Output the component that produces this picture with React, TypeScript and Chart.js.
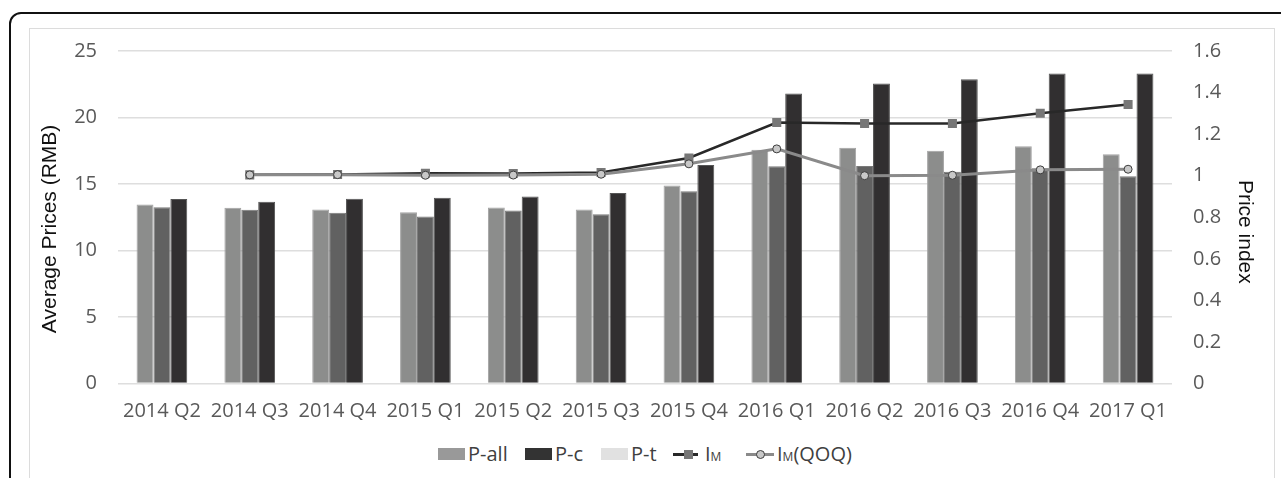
import React, { useEffect, useRef } from "react";
import { Chart, registerables } from "chart.js";

Chart.register(...registerables);

const categories = [
  "2014 Q2", "2014 Q3", "2014 Q4", "2015 Q1", "2015 Q2", "2015 Q3",
  "2015 Q4", "2016 Q1", "2016 Q2", "2016 Q3", "2016 Q4", "2017 Q1",
];
const pAll = [13.46, 13.21, 13.08, 12.88, 13.23, 13.08, 14.88, 17.58, 17.73, 17.5, 17.83, 17.23];
const pT = [13.25, 13.06, 12.83, 12.56, 13.0, 12.73, 14.45, 16.33, 16.36, 15.93, 16.18, 15.58];
const pC = [13.88, 13.66, 13.9, 13.96, 14.06, 14.33, 16.43, 21.8, 22.55, 22.88, 23.3, 23.3];
const iM = [null, 1.004, 1.006, 1.012, 1.011, 1.015, 1.085, 1.256, 1.251, 1.251, 1.3, 1.343];
const iMQoq = [null, 1.004, 1.005, 1.002, 1.003, 1.007, 1.057, 1.129, 1.0, 1.002, 1.028, 1.031];

const leftTicks = { min: 0, max: 25, step: 5 };
const rightTicks = { min: 0, max: 1.6, step: 0.2 };

const CW = 1245;
const CH = 410;
const CTOP = 18;
const tickFont = { family: "'Open Sans', sans-serif", size: 20 };
const titleFont = { family: "'Liberation Sans', Arial, sans-serif", size: 21 };
const tickColor = "#595959";

export default function App() {
  const ref = useRef<HTMLCanvasElement | null>(null);

  useEffect(() => {
    if (!ref.current) return;
    const chart = new Chart(ref.current, {
      type: "bar",
      data: {
        labels: categories,
        datasets: [
          {
            type: "line",
            label: "IM(QOQ)",
            data: iMQoq,
            yAxisID: "y2",
            borderColor: "#8a8a8a",
            borderWidth: 3,
            pointStyle: "circle",
            pointRadius: 4,
            pointBackgroundColor: "#c8c8c8",
            pointBorderColor: "#3c3c3c",
            pointBorderWidth: 1,
            tension: 0,
          } as any,
          {
            type: "line",
            label: "IM",
            data: iM,
            yAxisID: "y2",
            borderColor: "#282828",
            borderWidth: 2.5,
            pointStyle: "rect",
            pointRadius: 6.4,
            pointBackgroundColor: "#777777",
            pointBorderColor: "#777777",
            pointBorderWidth: 0,
            tension: 0,
          } as any,
          {
            label: "P-all",
            data: pAll,
            yAxisID: "y",
            backgroundColor: "#8c8d8c",
            borderColor: "#a3a3a3",
            borderWidth: 1,
          },
          {
            label: "P-t",
            data: pT,
            yAxisID: "y",
            backgroundColor: "#616161",
            borderColor: "#7a7a7a",
            borderWidth: 1,
          },
          {
            label: "P-c",
            data: pC,
            yAxisID: "y",
            backgroundColor: "#312f30",
            borderColor: "#555555",
            borderWidth: 1,
          },
        ],
      },
      options: {
        responsive: false,
        animation: false,
        layout: { padding: { top: 0, left: 0, right: 0, bottom: 0 } },
        datasets: {
          bar: { categoryPercentage: 0.577, barPercentage: 1.0 },
        },
        plugins: {
          legend: { display: false },
          tooltip: { enabled: false },
          title: { display: false },
        },
        scales: {
          x: {
            grid: { display: false, drawTicks: false },
            border: { display: false },
            ticks: {
              font: tickFont,
              color: tickColor,
              padding: 16,
              maxRotation: 0,
              autoSkip: false,
            },
            afterFit: (s: any) => {
              s.height = CH - (383.5 - CTOP);
            },
          },
          y: {
            position: "left",
            min: leftTicks.min,
            max: leftTicks.max,
            ticks: {
              stepSize: leftTicks.step,
              font: tickFont,
              color: tickColor,
              padding: 21,
            },
            grid: { color: "#dedede", lineWidth: 1.5, drawTicks: false },
            border: { display: false },
            title: {
              display: true,
              text: "Average Prices (RMB)    ",
              font: titleFont,
              color: "#111111",
              padding: { top: 9, bottom: 0 },
            },
            afterFit: (s: any) => {
              s.width = 89;
            },
          },
          y2: {
            position: "right",
            min: rightTicks.min,
            max: rightTicks.max,
            ticks: {
              stepSize: rightTicks.step,
              font: tickFont,
              color: tickColor,
              padding: 21,
              callback: (v: any) => String(Math.round(Number(v) * 10) / 10),
            },
            grid: { display: false, drawTicks: false },
            border: { display: false },
            title: {
              display: true,
              text: "     Price index",
              font: titleFont,
              color: "#111111",
              padding: { top: 17, bottom: 0 },
            },
            afterFit: (s: any) => {
              s.width = 102;
            },
          },
        },
      } as any,
    });
    return () => chart.destroy();
  }, []);

  const legendText: React.CSSProperties = {
    position: "absolute",
    top: 440,
    fontFamily: "'Open Sans', sans-serif",
    fontSize: 20,
    lineHeight: "28px",
    color: "#404040",
    whiteSpace: "nowrap",
  };
  const swatch = (left: number, color: string): React.CSSProperties => ({
    position: "absolute",
    left,
    top: 448,
    width: 27,
    height: 12,
    background: color,
  });
  const lineSample = (left: number, width: number, color: string, h: number): React.CSSProperties => ({
    position: "absolute",
    left,
    top: 454 - h / 2,
    width,
    height: h,
    background: color,
  });

  return (
    <div style={{ position: "fixed", left: 0, top: 0, width: 1281, height: 478, overflow: "hidden", background: "#fff" }}>
      <div
        style={{
          position: "absolute",
          left: 9,
          top: 12,
          width: 1320,
          height: 520,
          border: "2px solid #111",
          borderRadius: 12,
          boxSizing: "border-box",
        }}
      />
      <div
        style={{
          position: "absolute",
          left: 29,
          top: 28,
          width: 1246,
          height: 500,
          border: "1px solid #dcdcdc",
          boxSizing: "border-box",
        }}
      />
      <canvas
        ref={ref}
        width={CW}
        height={CH}
        style={{ position: "absolute", left: 29, top: CTOP, width: CW, height: CH }}
      />
      {/* legend */}
      <div style={swatch(438, "#999999")} />
      <div style={{ ...legendText, left: 468 }}>P-all</div>
      <div style={swatch(525, "#333333")} />
      <div style={{ ...legendText, left: 555 }}>P-c</div>
      <div style={swatch(601, "#e1e1e1")} />
      <div style={{ ...legendText, left: 631 }}>P-t</div>

      <div style={lineSample(673, 25, "#282828", 3)} />
      <div style={{ position: "absolute", left: 684, top: 449.5, width: 9, height: 9, background: "#777777" }} />
      <div style={{ ...legendText, left: 705 }}>
        I<span style={{ fontSize: 12 }}>M</span>
      </div>

      <div style={lineSample(746, 28, "#8a8a8a", 3)} />
      <div
        style={{
          position: "absolute",
          left: 756,
          top: 449.5,
          width: 9,
          height: 9,
          boxSizing: "border-box",
          borderRadius: "50%",
          background: "#c8c8c8",
          border: "1px solid #3c3c3c",
        }}
      />
      <div style={{ ...legendText, left: 777 }}>
        I<span style={{ fontSize: 12 }}>M</span>(QOQ)
      </div>
    </div>
  );
}
